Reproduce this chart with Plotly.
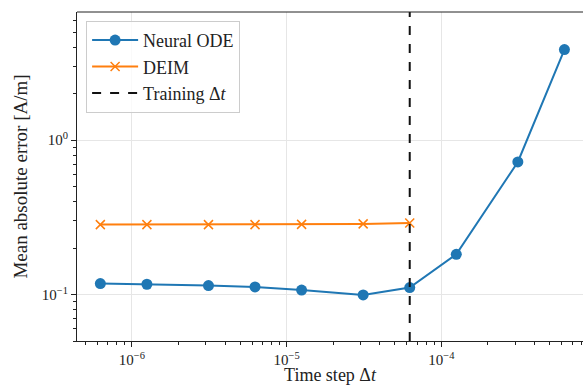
import plotly.graph_objects as go

# ---- data ----
dt_node = [6.25e-7, 1.25e-6, 3.125e-6, 6.25e-6, 1.25e-5, 3.125e-5, 6.25e-5, 1.25e-4, 3.125e-4, 6.25e-4]
err_node = [0.1178, 0.1166, 0.1144, 0.112, 0.107, 0.0994, 0.111, 0.1824, 0.723, 3.87]
dt_deim = [6.25e-7, 1.25e-6, 3.125e-6, 6.25e-6, 1.25e-5, 3.125e-5, 6.25e-5]
err_deim = [0.284, 0.284, 0.284, 0.284, 0.285, 0.287, 0.291]
training_dt = 6.25e-5

x_range_log = [-6.355, -3.084]
y_range_log = [-1.301, 0.831]

x_tickvals = [1e-6, 1e-5, 1e-4]
x_ticktext = ["10<sup>−6</sup>", "10<sup>−5</sup>", "10<sup>−4</sup>"]
y_tickvals = [1e-1, 1e0]
y_ticktext = ["10<sup>−1</sup>", "10<sup>0</sup>"]

x_minor = [m * 10.0 ** e for e in range(-7, -2) for m in range(2, 10)]
y_minor = [m * 10.0 ** e for e in range(-2, 1) for m in range(2, 10)]

FONT = "Liberation Serif"
BLUE = "#1f77b4"
ORANGE = "#ff7f0e"
INK = "#222222"

fig = go.Figure()
fig.add_trace(go.Scatter(
    x=dt_node, y=err_node, mode="lines+markers", name="Neural ODE",
    line=dict(color=BLUE, width=2),
    marker=dict(symbol="circle", size=11, color=BLUE),
))
fig.add_trace(go.Scatter(
    x=dt_deim, y=err_deim, mode="lines+markers", name="DEIM",
    line=dict(color=ORANGE, width=2),
    marker=dict(symbol="x-thin", size=9, color=ORANGE, line=dict(color=ORANGE, width=1.5)),
))
fig.add_trace(go.Scatter(
    x=[training_dt, training_dt], y=[10 ** y_range_log[0], 10 ** y_range_log[1]],
    mode="lines", name="Training Δ<i>t</i>",
    line=dict(color="#111111", width=2, dash="dash"),
))

axis_common = dict(
    showline=True, linecolor=INK, linewidth=1,
    ticks="outside", ticklen=5, tickwidth=1, tickcolor=INK,
    showgrid=True, gridcolor="#e6e6e6", gridwidth=1,
    zeroline=False, automargin=False,
    tickfont=dict(family=FONT, size=15, color=INK),
)

fig.update_xaxes(
    type="log", range=x_range_log,
    tickmode="array", tickvals=x_tickvals, ticktext=x_ticktext,
    minor=dict(tickmode="array", tickvals=x_minor, ticks="outside", ticklen=3,
               tickcolor=INK, showgrid=False),
    title=dict(text="Time step Δ<i>t</i>", font=dict(family=FONT, size=18, color=INK), standoff=5),
    **axis_common,
)
fig.update_yaxes(
    type="log", range=y_range_log,
    tickmode="array", tickvals=y_tickvals, ticktext=y_ticktext,
    minor=dict(tickmode="array", tickvals=y_minor, ticks="outside", ticklen=3,
               tickcolor=INK, showgrid=False),
    title=dict(text="Mean absolute error [A/m]", font=dict(family=FONT, size=19, color=INK), standoff=9),
    **axis_common,
)

# top spine
fig.add_shape(type="line", xref="paper", yref="paper", x0=0, x1=1, y0=1, y1=1,
              line=dict(color=INK, width=1))

fig.update_layout(
    width=583, height=385,
    margin=dict(l=77, r=0, t=12, b=44),
    paper_bgcolor="white", plot_bgcolor="white",
    font=dict(family=FONT, size=18, color=INK),
    showlegend=True,
    legend=dict(
        x=0.018, y=0.973, xanchor="left", yanchor="top",
        bgcolor="rgba(255,255,255,0.8)", bordercolor="#cccccc", borderwidth=1,
        font=dict(family=FONT, size=18, color=INK),
        tracegroupgap=0, itemwidth=46,
    ),
)

fig.write_html("out.html")
